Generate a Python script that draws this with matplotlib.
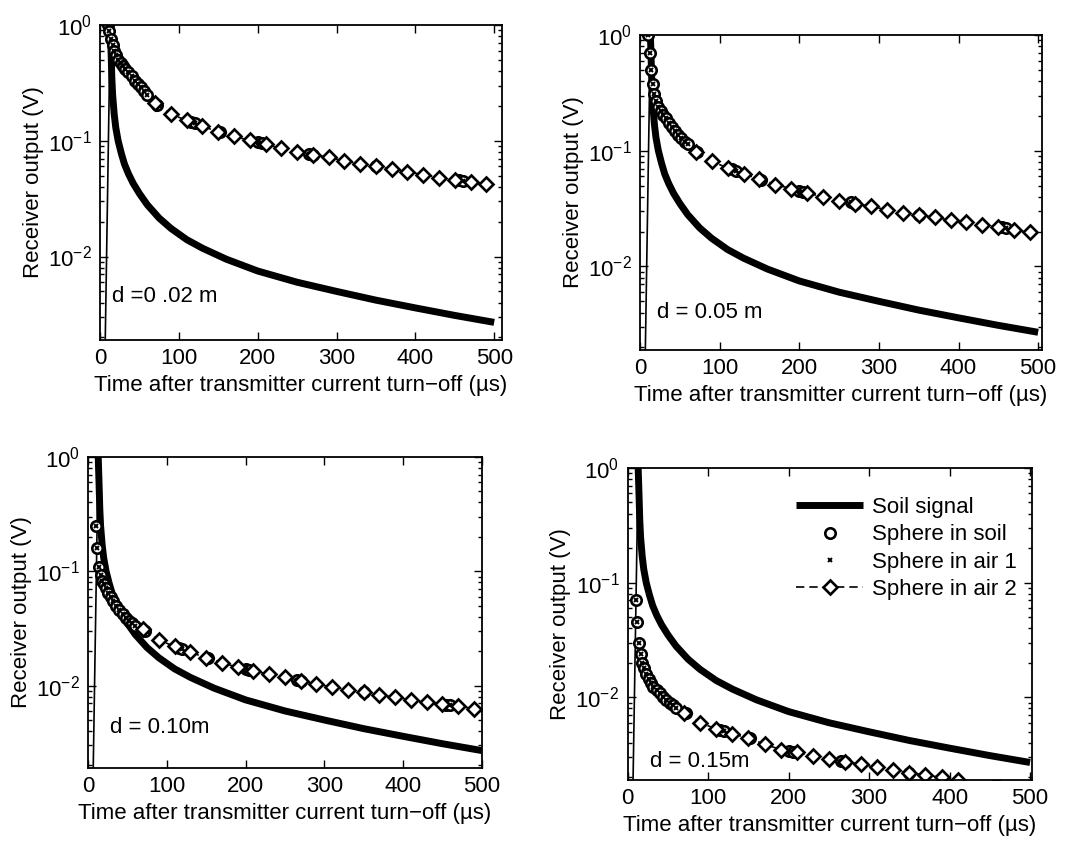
import numpy as np
import matplotlib
matplotlib.use('Agg')
import matplotlib.pyplot as plt
from matplotlib.ticker import LogLocator, NullFormatter, FixedLocator

plt.rcParams['font.family'] = ['Liberation Sans', 'DejaVu Sans']
plt.rcParams['mathtext.fontset'] = 'custom'
plt.rcParams['mathtext.rm'] = 'Liberation Sans'
plt.rcParams['mathtext.it'] = 'Liberation Sans:italic'
plt.rcParams['mathtext.bf'] = 'Liberation Sans:bold'

# ---------------- data ----------------
# Soil signal (same in every panel); first point is the rising edge
soil_t = [6, 13, 14, 15, 16, 18, 20, 23, 27, 31, 36, 42, 50, 60, 75, 90, 110,
          130, 160, 200, 250, 300, 350, 400, 450, 500]
soil_v = [0.001, 1.0, 0.6, 0.35, 0.25, 0.17, 0.13, 0.10, 0.078, 0.063, 0.052,
          0.043, 0.035, 0.028, 0.0215, 0.0175, 0.014, 0.0118, 0.0095, 0.0075,
          0.0060, 0.0050, 0.0042, 0.0036, 0.0031, 0.0027]

# Sphere in soil (circles) and sphere in air 1 (x) sample times
circ_t = [10, 12, 14, 16, 18, 20, 23, 26, 29, 32, 36, 40, 44, 48, 52, 56, 60,
          72, 115, 120, 152, 200, 205, 265, 270, 350, 455, 460]
# Sphere in air 2 (diamonds) sample times
air2_t = [70, 90, 110, 130, 150, 170, 190, 210, 230, 250, 270, 290, 310, 330,
          350, 370, 390, 410, 430, 450, 470, 490]

# d = 0.02 m
tl_circ = [1.0, 0.88, 0.76, 0.67, 0.60, 0.55, 0.50, 0.47, 0.44, 0.42, 0.39,
           0.36, 0.33, 0.31, 0.29, 0.27, 0.25, 0.205, 0.146, 0.142, 0.118,
           0.098, 0.096, 0.077, 0.076, 0.060, 0.0455, 0.045]
tl_air2 = [0.21, 0.17, 0.15, 0.134, 0.119, 0.109, 0.101, 0.093, 0.086, 0.080,
           0.076, 0.072, 0.067, 0.063, 0.060, 0.057, 0.054, 0.051, 0.048,
           0.046, 0.044, 0.042]
# d = 0.05 m
tr_circ = [1.0, 0.70, 0.50, 0.38, 0.31, 0.27, 0.24, 0.22, 0.205, 0.19, 0.175,
           0.16, 0.148, 0.138, 0.128, 0.12, 0.114, 0.097, 0.069, 0.067, 0.056,
           0.045, 0.044, 0.036, 0.035, 0.0277, 0.0218, 0.0215]
tr_air2 = [0.098, 0.081, 0.071, 0.063, 0.057, 0.051, 0.047, 0.043, 0.040,
           0.037, 0.035, 0.033, 0.031, 0.029, 0.0277, 0.0267, 0.025, 0.024,
           0.0228, 0.022, 0.0207, 0.0197]
# d = 0.10 m
bl_circ = [0.25, 0.16, 0.11, 0.092, 0.083, 0.077, 0.071, 0.065, 0.060, 0.055,
           0.050, 0.046, 0.042, 0.039, 0.037, 0.035, 0.033, 0.030, 0.0215,
           0.021, 0.0176, 0.0140, 0.0137, 0.0112, 0.0110, 0.0087, 0.0068,
           0.0067]
bl_air2 = [0.031, 0.025, 0.022, 0.0195, 0.0176, 0.0158, 0.0145, 0.0134,
           0.0126, 0.0118, 0.0110, 0.0103, 0.0097, 0.0092, 0.0087, 0.0083,
           0.0079, 0.0075, 0.0072, 0.0069, 0.0066, 0.0063]
# d = 0.15 m
br_circ = [0.070, 0.045, 0.030, 0.024, 0.020, 0.018, 0.016, 0.0145, 0.0133,
           0.0124, 0.0116, 0.0108, 0.0101, 0.0095, 0.0090, 0.0085, 0.0081,
           0.0073, 0.0052, 0.0051, 0.0044, 0.0034, 0.0033, 0.0028, 0.00275,
           0.0022, 0.0017, 0.0017]
br_air2 = [0.0073, 0.0060, 0.0053, 0.0048, 0.0044, 0.0039, 0.0035, 0.0033,
           0.0031, 0.0029, 0.00275, 0.0026, 0.00245, 0.0023, 0.0022, 0.0021,
           0.0020, 0.0019]

panel_labels = ['d =0 .02 m', 'd = 0.05 m', 'd = 0.10m', 'd = 0.15m']
legend_labels = ['Soil signal', 'Sphere in soil', 'Sphere in air 1',
                 'Sphere in air 2']
xlabel = 'Time after transmitter current turn\u2212off (\u00b5s)'
ylabel = 'Receiver output (V)'
x_ticks = [0, 100, 200, 300, 400, 500]

# ---------------- layout ----------------
fig = plt.figure(figsize=(10.73, 8.49), dpi=100)
positions = [[0.0932, 0.5995, 0.3747, 0.371],
             [0.5965, 0.5878, 0.3747, 0.371],
             [0.082, 0.0954, 0.367, 0.3663],
             [0.585, 0.0813, 0.3765, 0.3675]]
xmaxes = [510, 505, 500, 502]
text_pos = [(0.03, 0.137), (0.042, 0.12), (0.056, 0.13), (0.054, 0.058)]
circ_sets = [tl_circ, tr_circ, bl_circ, br_circ]
air2_sets = [tl_air2, tr_air2, bl_air2, br_air2]

FS = 16
for i in range(4):
    ax = fig.add_axes(positions[i])
    ax.set_yscale('log')
    # soil: thin rising edge + thick decay
    ax.plot(soil_t[:2], soil_v[:2], color='black', lw=1.2)
    ax.plot(soil_t[1:], soil_v[1:], color='black', lw=5.0,
            solid_capstyle='butt', label=legend_labels[0])
    cv = circ_sets[i]
    ax.plot(circ_t, cv, linestyle='none', marker='o', ms=7.5, mfc='white',
            mec='black', mew=1.9, label=legend_labels[1])
    ax.plot(circ_t, cv, linestyle='none', marker='x', ms=3.5, color='black',
            mew=1.4, label=legend_labels[2])
    av = air2_sets[i]
    ax.plot(air2_t[:len(av)], av, linestyle=(0, (5, 3)), color='black', lw=1.2,
            marker='D', ms=7.5, mfc='white', mec='black', mew=1.9,
            label=legend_labels[3])
    ax.set_xlim(0, xmaxes[i])
    ax.set_ylim(0.0019, 1.0)
    ax.xaxis.set_major_locator(FixedLocator(x_ticks))
    ax.yaxis.set_major_locator(LogLocator(base=10, numticks=10))
    ax.yaxis.set_minor_locator(LogLocator(base=10, subs=np.arange(2, 10), numticks=10))
    ax.yaxis.set_minor_formatter(NullFormatter())
    ax.tick_params(which='both', direction='in', top=True, right=True,
                   labelsize=FS, width=1.0)
    ax.tick_params(which='major', length=6, pad=6)
    ax.tick_params(which='minor', length=3)
    for s in ax.spines.values():
        s.set_linewidth(1.3)
    ax.set_xlabel(xlabel, fontsize=FS, labelpad=4)
    ax.set_ylabel(ylabel, fontsize=FS, labelpad=3)
    ax.text(text_pos[i][0], text_pos[i][1], panel_labels[i],
            transform=ax.transAxes, fontsize=FS, va='center', ha='left')
    if i == 3:
        ax.legend(loc='upper right', frameon=False, fontsize=FS,
                  handlelength=3.0, labelspacing=0.28, handletextpad=0.4,
                  borderaxespad=0.0, bbox_to_anchor=(0.985, 0.935))

fig.savefig('out.png', dpi=100)
